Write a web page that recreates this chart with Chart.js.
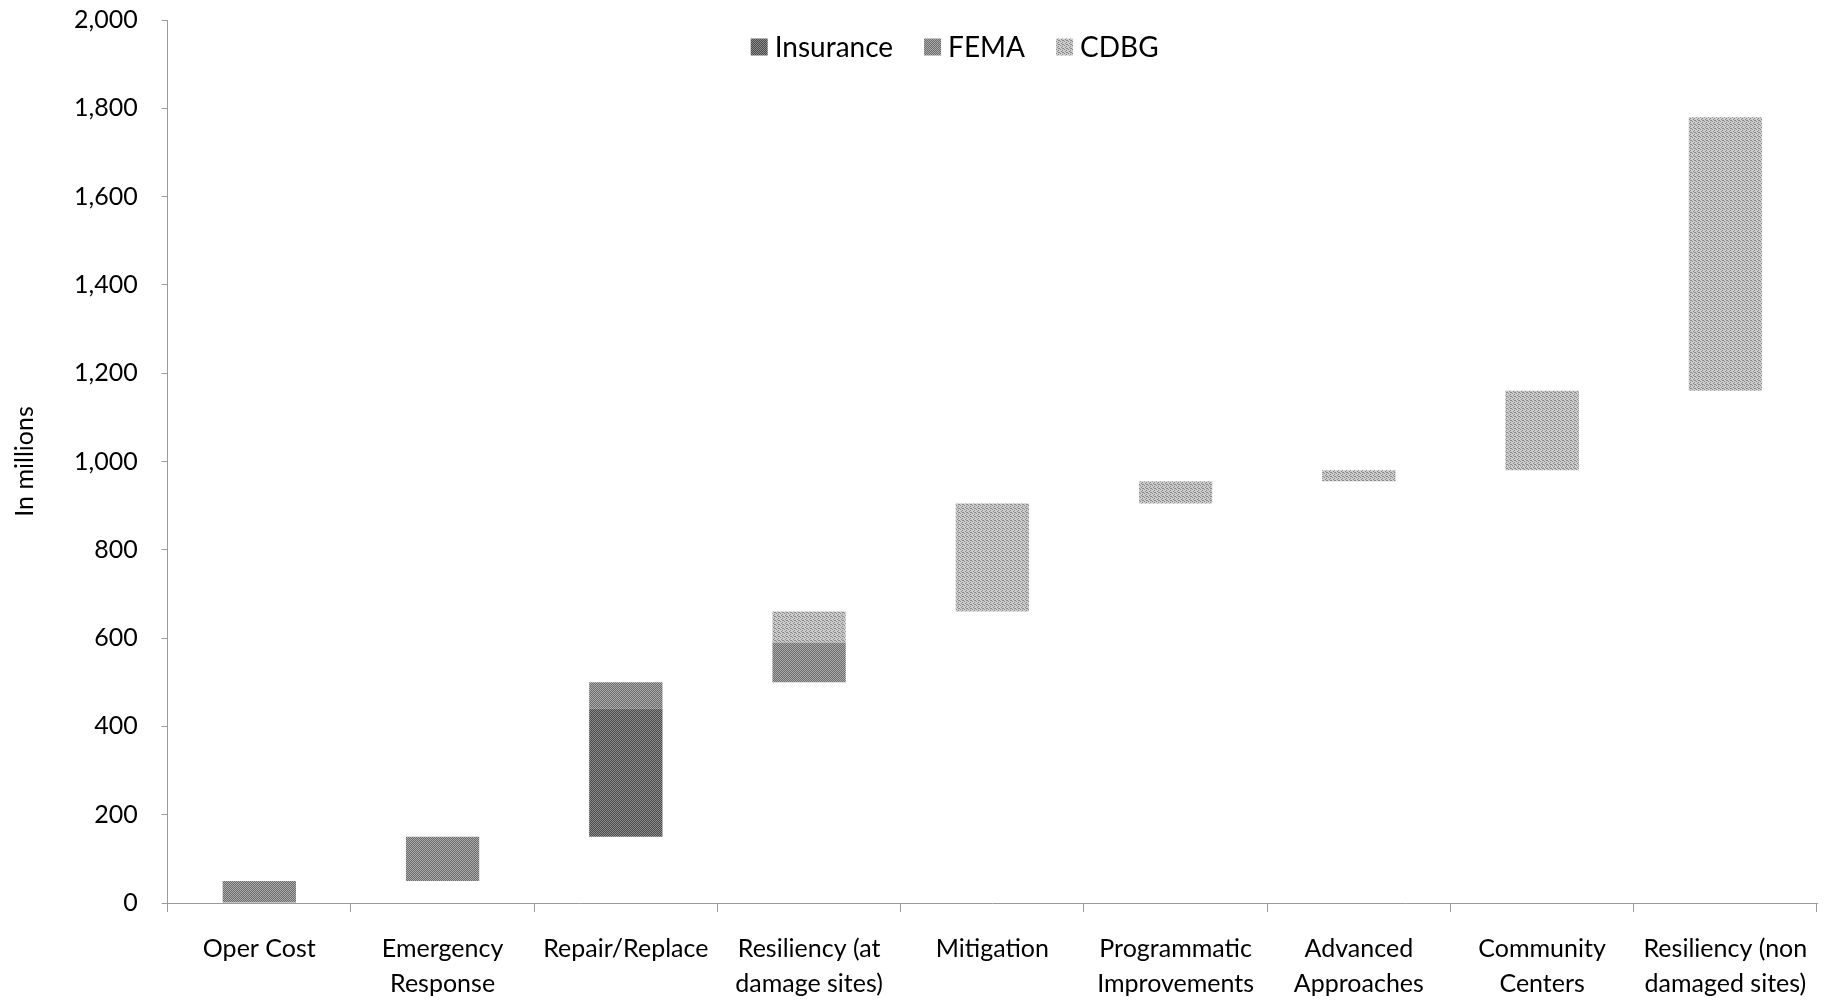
<!DOCTYPE html>
<html>
<head>
<meta charset="utf-8">
<title>Funding sources by category</title>
<script src="https://cdn.jsdelivr.net/npm/chart.js@4.4.1/dist/chart.umd.min.js"></script>
<style>
    html, body { margin: 0; padding: 0; background: #fff; overflow: hidden; }
    #wrap { position: absolute; left: 0; top: -19px; width: 1835px; height: 1021px; }
</style>
</head>
<body>
<div id="wrap"><canvas id="fundingChart"></canvas></div>
<script>
// --- data (in millions), floating [from, to] ranges per funding source ---
const categories = [
    'Oper Cost',
    ['Emergency', 'Response'],
    'Repair/Replace',
    ['Resiliency (at', 'damage sites)'],
    'Mitigation',
    ['Programmatic', 'Improvements'],
    ['Advanced', 'Approaches'],
    ['Community', 'Centers'],
    ['Resiliency (non', 'damaged sites)'],
];
const insuranceRanges = [null, null, [150, 440], null, null, null, null, null, null];
const femaRanges = [[0, 50], [50, 150], [440, 500], [500, 590], null, null, null, null, null];
const cdbgRanges = [null, null, null, [590, 660], [660, 905], [905, 955], [955, 980], [980, 1160], [1160, 1780]];
const yMin = 0;
const yMax = 2000;
const yStep = 200;

const FONT = 'Lato, "Open Sans", sans-serif';

// small fixed dither tiles to mimic the scanned hatch fills
function hatch(dark, light, cells) {
    const c = document.createElement('canvas');
    c.width = 4; c.height = 4;
    const g = c.getContext('2d');
    g.fillStyle = light;
    g.fillRect(0, 0, 4, 4);
    g.fillStyle = dark;
    cells.forEach(([x, y]) => g.fillRect(x, y, 1, 1));
    return g.createPattern(c, 'repeat');
}

const DIAG = [[0, 0], [1, 1], [2, 2], [3, 3], [2, 0], [3, 1], [0, 2], [1, 3]];
const SPARSE = [[0, 0], [2, 1], [1, 2], [3, 3], [2, 3]];

const FILLS = {
    insurance: hatch('#4a4a4a', '#8c8c8c', DIAG),
    fema: hatch('#6c6c6c', '#ababab', DIAG),
    cdbg: hatch('#888888', '#cccccc', SPARSE),
};

function bar(label, data, fill) {
    return {
        label, data,
        backgroundColor: fill,
        borderWidth: 0,
        barPercentage: 0.4,
        categoryPercentage: 1,
    };
}

// legend sits inside the plot, near the top, like the Excel original
const topLegend = {
    id: 'topLegend',
    afterDraw(chart) {
        const { ctx, chartArea } = chart;
        const box = 17, gap = 7, spacing = 31;
        ctx.save();
        ctx.font = `28px ${FONT}`;
        let x = chartArea.left + 583;
        const y = chartArea.top + 27;
        ctx.textBaseline = 'middle';
        chart.data.datasets.forEach(d => {
            ctx.fillStyle = d.backgroundColor;
            ctx.fillRect(x, y - box / 2, box, box);
            ctx.fillStyle = '#000';
            ctx.fillText(d.label, x + box + gap, y + 1);
            x += box + gap + ctx.measureText(d.label).width + spacing;
        });
        ctx.restore();
    }
};

document.addEventListener('DOMContentLoaded', () => {
    const ctx = document.getElementById('fundingChart');
    new Chart(ctx, {
        type: 'bar',
        data: {
            labels: categories,
            datasets: [
                bar('Insurance', insuranceRanges, FILLS.insurance),
                bar('FEMA', femaRanges, FILLS.fema),
                bar('CDBG', cdbgRanges, FILLS.cdbg),
            ]
        },
        options: {
            responsive: true, maintainAspectRatio: false, animation: false,
            layout: { padding: { top: 4, right: 18, left: 10, bottom: -18 } },
            plugins: {
                legend: { display: false },
                tooltip: { callbacks: { label: c => `${c.dataset.label}: ${c.raw[0]}–${c.raw[1]}` } }
            },
            scales: {
                x: {
                    stacked: true,
                    grid: { offset: true, drawOnChartArea: false, drawTicks: true, tickLength: 9, color: '#9a9a9a' },
                    border: { color: '#9a9a9a' },
                    ticks: { color: '#000', font: { family: FONT, size: 25, lineHeight: 1.4 }, padding: 19, maxRotation: 0, autoSkip: false }
                },
                y: {
                    min: yMin, max: yMax,
                    grid: { drawOnChartArea: false, drawTicks: true, tickLength: 6, color: '#9a9a9a' },
                    border: { color: '#9a9a9a' },
                    ticks: { stepSize: yStep, color: '#000', font: { family: FONT, size: 25 }, padding: 24, callback: v => v.toLocaleString('en-US') },
                    title: { display: true, text: 'In millions', color: '#000', font: { family: FONT, size: 25 }, padding: { top: 0, bottom: 10 } }
                }
            }
        },
        plugins: [topLegend]
    });
});
</script>
</body>
</html>
